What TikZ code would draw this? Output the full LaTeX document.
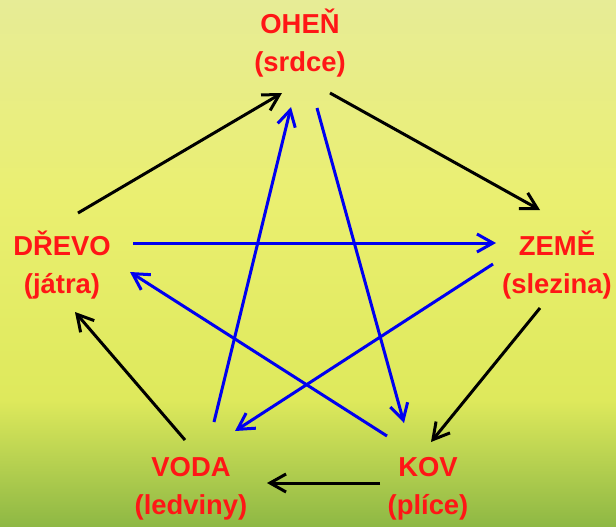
\documentclass[tikz,border=0pt]{standalone}
\usepackage{fontspec}
\setmainfont{Liberation Sans}
\usepackage{tikz}
\usetikzlibrary{arrows.meta, positioning, calc}
\definecolor{elemred}{RGB}{255, 22, 22}
\definecolor{cycleblue}{RGB}{0, 0, 240}
\definecolor{skypale}{RGB}{231, 236, 150}
\definecolor{sunyellow}{RGB}{234, 239, 112}
\definecolor{meadow}{RGB}{222, 233, 92}
\definecolor{grass}{RGB}{142, 184, 68}

\begin{document}
\begin{tikzpicture}[x=0.5pt, y=-0.5pt, >={Straight Barb[length=8pt, width=9pt]},
  element/.style={text=elemred, font=\fontsize{13.7}{19}\selectfont\bfseries, align=center, inner sep=0pt},
  feed/.style={->, line width=1.5pt, black},
  check/.style={->, line width=1.5pt, cycleblue}]
  \shade[top color=skypale, bottom color=sunyellow] (0,0) rectangle (616,201);
  \shade[top color=sunyellow, bottom color=meadow] (0,200) rectangle (616,401);
  \shade[top color=meadow, bottom color=grass] (0,400) rectangle (616,526);
  \useasboundingbox (0,0) rectangle (616,526);

  \node[element] (ohen) at (300,43) {OHEŇ\\(srdce)};
  \node[element] (drevo) at (62,265) {DŘEVO\\(játra)};
  \node[element] (zeme) at (557,265) {ZEMĚ\\(slezina)};
  \node[element] (voda) at (191,489) {VODA\\(ledviny)};
  \node[element] (kov) at (428,489) {KOV\\(plíce)};

  \coordinate (drevo-n) at (78,213);
  \coordinate (drevo-e) at (133,243);
  \coordinate (drevo-se) at (130,272);
  \coordinate (drevo-s) at (75,312);
  \coordinate (ohen-sw) at (282,93);
  \coordinate (ohen-s) at (291,107);
  \coordinate (ohen-se) at (317,108);
  \coordinate (ohen-e) at (330,93);
  \coordinate (zeme-n) at (540,210);
  \coordinate (zeme-w) at (496,243);
  \coordinate (zeme-sw) at (493,264);
  \coordinate (zeme-s) at (540,308);
  \coordinate (kov-n) at (431,442);
  \coordinate (kov-nw) at (404,423);
  \coordinate (kov-w) at (387,436);
  \coordinate (kov-l) at (380,483);
  \coordinate (voda-r) at (267,483);
  \coordinate (voda-ne) at (235,431);
  \coordinate (voda-n) at (214,422);
  \coordinate (voda-nw) at (185,440);

  \draw[feed] (drevo-n) -- (ohen-sw);
  \draw[feed] (ohen-e) -- (zeme-n);
  \draw[feed] (zeme-s) -- (kov-n);
  \draw[feed] (kov-l) -- (voda-r);
  \draw[feed] (voda-nw) -- (drevo-s);

  \draw[check] (drevo-e) -- (zeme-w);
  \draw[check] (zeme-sw) -- (voda-ne);
  \draw[check] (voda-n) -- (ohen-s);
  \draw[check] (ohen-se) -- (kov-nw);
  \draw[check] (kov-w) -- (drevo-se);
\end{tikzpicture}
\end{document}
